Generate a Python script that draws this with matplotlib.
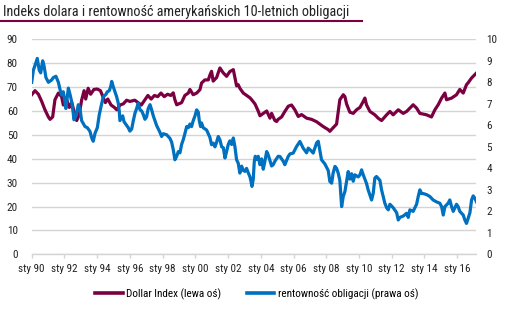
import numpy as np
import matplotlib.pyplot as plt
import matplotlib.font_manager as fm
from matplotlib.lines import Line2D

# wybór wąskiego kroju, jeśli jest zainstalowany
names = {f.name for f in fm.fontManager.ttflist}
narrow = [n for n in ['Roboto Condensed', 'Liberation Sans Narrow', 'DejaVu Sans Condensed',
                      'Open Sans Condensed', 'Noto Sans Condensed'] if n in names]
cond_stretch = [f.name for f in fm.fontManager.ttflist if str(f.stretch) in ('condensed', 'semi-condensed', '75', '87')]
if narrow:
    plt.rcParams['font.family'] = [narrow[0], 'DejaVu Sans']
    fs = 8
elif cond_stretch:
    plt.rcParams['font.family'] = [cond_stretch[0], 'DejaVu Sans']
    plt.rcParams['font.stretch'] = 'condensed'
    fs = 8
else:
    plt.rcParams['font.family'] = ['DejaVu Sans']
    fs = 6.3

# Dollar Index (lewa oś): (rok, wartość)
dxy_t = [1990.00, 1990.20, 1990.41, 1990.61, 1990.81, 1991.02, 1991.12, 1991.28, 1991.42, 1991.63,
         1991.83, 1991.93, 1992.10, 1992.30, 1992.45, 1992.60, 1992.75, 1992.90, 1993.05, 1993.20,
         1993.30, 1993.45, 1993.60, 1993.80, 1994.00, 1994.20, 1994.35, 1994.50, 1994.65, 1994.85,
         1995.05, 1995.20, 1995.40, 1995.60, 1995.80, 1996.00, 1996.30, 1996.50, 1996.70, 1996.90,
         1997.10, 1997.30, 1997.50, 1997.70, 1997.90, 1998.10, 1998.30, 1998.50, 1998.65, 1998.75,
         1998.86, 1999.16, 1999.36, 1999.57, 1999.67, 1999.87, 2000.08, 2000.28, 2000.38, 2000.58,
         2000.79, 2000.89, 2000.99, 2001.09, 2001.30, 2001.40, 2001.50, 2001.70, 2001.91, 2002.11,
         2002.32, 2002.42, 2002.52, 2002.62, 2002.72, 2002.93, 2003.13, 2003.34, 2003.44, 2003.64,
         2003.74, 2003.84, 2003.95, 2004.15, 2004.36, 2004.56, 2004.66, 2004.86, 2004.97, 2005.06,
         2005.27, 2005.47, 2005.68, 2005.88, 2006.08, 2006.29, 2006.49, 2006.80, 2007.10, 2007.41,
         2007.61, 2007.81, 2008.12, 2008.22, 2008.42, 2008.63, 2008.73, 2008.83, 2009.04, 2009.14,
         2009.24, 2009.44, 2009.65, 2009.85, 2010.06, 2010.26, 2010.36, 2010.46, 2010.67, 2010.97,
         2011.17, 2011.38, 2011.69, 2011.89, 2012.09, 2012.40, 2012.70, 2012.91, 2013.31, 2013.52,
         2013.72, 2014.13, 2014.43, 2014.64, 2014.84, 2015.05, 2015.25, 2015.35, 2015.66, 2015.96,
         2016.16, 2016.37, 2016.57, 2016.67, 2016.88, 2017.08, 2017.18]
dxy_v = [66.8, 68.5, 67.0, 64.0, 60.5, 57.5, 56.5, 57.5, 64.7, 67.5,
         66.0, 62.5, 65.5, 61.5, 63.5, 59.5, 56.0, 58.5, 64.5, 68.5,
         65.0, 69.5, 67.0, 69.0, 69.2, 68.5, 66.0, 63.5, 65.0, 62.5,
         61.5, 60.5, 62.5, 63.0, 64.5, 64.0, 64.5, 63.5, 62.5, 64.5,
         66.5, 65.0, 66.5, 66.0, 67.5, 66.0, 67.0, 66.5, 67.6, 64.7,
         62.6, 63.5, 66.5, 67.5, 69.0, 66.8, 67.5, 68.9, 71.7, 73.0,
         73.0, 75.0, 76.6, 72.5, 74.0, 76.0, 78.0, 76.0, 74.5, 76.5,
         77.3, 74.0, 70.5, 71.0, 69.5, 67.5, 66.5, 65.5, 64.7, 63.0,
         61.5, 60.0, 58.0, 59.0, 60.0, 57.0, 59.0, 56.0, 55.6, 56.5,
         57.5, 59.8, 62.0, 62.5, 60.5, 57.7, 58.5, 57.0, 56.5, 55.5,
         54.5, 53.5, 52.2, 51.5, 53.0, 54.5, 59.5, 64.7, 66.8, 66.0,
         63.0, 59.5, 59.0, 60.5, 61.5, 64.0, 65.4, 62.6, 59.8, 58.4,
         57.0, 56.0, 58.4, 59.8, 58.4, 60.5, 59.0, 59.8, 62.6, 61.2,
         59.0, 58.4, 57.5, 60.5, 62.6, 65.4, 67.5, 64.7, 65.4, 66.8,
         69.0, 67.5, 71.0, 71.8, 73.8, 75.2, 75.9]

# rentowność obligacji 10-letnich, % (prawa oś)
ust_t = [1990.00, 1990.10, 1990.20, 1990.34, 1990.46, 1990.55, 1990.67, 1990.75, 1990.87, 1991.02,
         1991.22, 1991.32, 1991.48, 1991.63, 1991.73, 1991.83, 1991.93, 1992.03, 1992.09, 1992.24,
         1992.34, 1992.44, 1992.54, 1992.58, 1992.71, 1992.85, 1992.95, 1993.05, 1993.26, 1993.40,
         1993.56, 1993.67, 1993.76, 1993.87, 1994.01, 1994.13, 1994.28, 1994.37, 1994.54, 1994.62,
         1994.74, 1994.83, 1994.89, 1994.99, 1995.09, 1995.19, 1995.29, 1995.35, 1995.39, 1995.56,
         1995.64, 1995.90, 1996.00, 1996.11, 1996.21, 1996.31, 1996.41, 1996.51, 1996.62, 1996.72,
         1996.82, 1996.92, 1997.02, 1997.12, 1997.23, 1997.33, 1997.43, 1997.53, 1997.63, 1997.74,
         1997.84, 1997.94, 1998.04, 1998.25, 1998.45, 1998.55, 1998.65, 1998.75, 1998.86, 1998.96,
         1999.06, 1999.16, 1999.26, 1999.36, 1999.47, 1999.57, 1999.67, 1999.77, 1999.87, 1999.98,
         2000.08, 2000.18, 2000.24, 2000.32, 2000.38, 2000.48, 2000.69, 2000.79, 2000.89, 2000.99,
         2001.09, 2001.20, 2001.30, 2001.40, 2001.50, 2001.61, 2001.71, 2001.81, 2001.91, 2002.01,
         2002.11, 2002.22, 2002.32, 2002.42, 2002.52, 2002.62, 2002.72, 2002.83, 2002.93, 2003.03,
         2003.13, 2003.23, 2003.34, 2003.40, 2003.46, 2003.54, 2003.60, 2003.66, 2003.74, 2003.84,
         2003.95, 2004.05, 2004.15, 2004.25, 2004.36, 2004.46, 2004.66, 2004.76, 2004.86, 2005.06,
         2005.17, 2005.37, 2005.47, 2005.68, 2005.78, 2005.98, 2006.19, 2006.39, 2006.59, 2006.80,
         2006.90, 2007.10, 2007.20, 2007.41, 2007.51, 2007.71, 2007.92, 2008.12, 2008.22, 2008.33,
         2008.42, 2008.53, 2008.63, 2008.73, 2008.83, 2008.94, 2009.04, 2009.14, 2009.34, 2009.44,
         2009.55, 2009.65, 2009.75, 2009.95, 2010.06, 2010.16, 2010.26, 2010.46, 2010.56, 2010.77,
         2010.87, 2010.97, 2011.07, 2011.28, 2011.38, 2011.58, 2011.69, 2011.79, 2011.89, 2012.09,
         2012.30, 2012.40, 2012.50, 2012.70, 2012.91, 2013.01, 2013.11, 2013.31, 2013.42, 2013.52,
         2013.62, 2013.72, 2013.82, 2013.92, 2014.13, 2014.33, 2014.53, 2014.74, 2014.94, 2015.05,
         2015.15, 2015.25, 2015.45, 2015.55, 2015.66, 2015.76, 2015.96, 2016.06, 2016.16, 2016.37,
         2016.47, 2016.57, 2016.67, 2016.78, 2016.88, 2016.98, 2017.08, 2017.18]
ust_v = [8.00, 8.56, 8.78, 9.11, 8.56, 8.44, 9.00, 8.78, 8.22, 8.00,
         8.11, 8.22, 8.28, 8.00, 7.67, 7.41, 7.56, 7.11, 6.78, 7.73,
         7.44, 7.11, 6.56, 6.26, 6.44, 6.96, 6.78, 6.22, 5.94, 5.89,
         5.72, 5.41, 5.26, 5.63, 5.89, 6.50, 7.03, 7.33, 7.44, 7.56,
         7.61, 7.81, 8.04, 7.78, 7.56, 7.33, 7.03, 6.67, 6.22, 6.44,
         6.17, 5.89, 5.73, 5.83, 6.22, 6.56, 6.78, 7.03, 6.72, 6.67,
         6.50, 6.28, 6.39, 6.78, 6.96, 6.72, 6.44, 6.22, 6.00, 5.83,
         5.67, 5.48, 5.61, 5.56, 5.39, 5.22, 4.87, 4.40, 4.56, 4.78,
         4.72, 5.11, 5.33, 5.61, 5.94, 5.89, 6.06, 5.94, 6.22, 6.44,
         6.72, 6.61, 6.22, 5.94, 6.11, 5.89, 5.78, 5.61, 5.44, 5.10,
         5.17, 5.00, 5.22, 5.48, 5.33, 5.00, 4.96, 4.48, 4.78, 5.11,
         5.28, 5.11, 5.41, 5.00, 4.40, 4.24, 3.78, 4.10, 3.90, 3.86,
         4.00, 3.80, 3.60, 3.40, 3.16, 3.50, 4.30, 4.56, 4.41, 4.56,
         4.17, 4.44, 3.96, 4.33, 4.78, 4.61, 4.11, 4.17, 4.33, 4.56,
         4.55, 4.33, 4.17, 4.56, 4.67, 4.71, 5.02, 5.25, 4.94, 4.72,
         4.94, 4.80, 4.71, 5.18, 5.26, 4.40, 4.20, 3.90, 3.39, 3.31,
         3.78, 4.09, 4.00, 3.78, 3.44, 2.22, 2.70, 2.92, 3.85, 3.50,
         3.75, 3.40, 3.70, 3.60, 3.70, 3.93, 3.70, 3.30, 3.00, 2.53,
         2.84, 3.55, 3.62, 3.44, 3.00, 2.38, 2.17, 2.07, 2.33, 2.17,
         1.94, 1.60, 1.72, 1.78, 1.91, 1.72, 2.07, 2.00, 2.17, 2.33,
         2.69, 3.00, 2.83, 2.83, 2.78, 2.69, 2.53, 2.44, 2.38, 2.22,
         1.83, 2.22, 2.38, 2.53, 2.22, 2.00, 2.33, 2.22, 2.00, 1.83,
         1.60, 1.44, 1.67, 1.94, 2.53, 2.72, 2.61, 2.44]

tick_years = list(range(1990, 2017, 2))
left_ticks = list(range(0, 100, 10))
right_ticks = list(range(0, 11))

maroon = '#7b0041'
blue = '#0070c0'
grid_c = '#d4d4d4'
txt_c = '#222222'

fig = plt.figure(figsize=(5.13, 3.22), dpi=100)
ax = fig.add_axes([0.0618, 0.21, 0.867, 0.668])
ax2 = ax.twinx()

ax.plot(dxy_t, dxy_v, color=maroon, lw=2.3, solid_joinstyle='round')
ax2.plot(ust_t, ust_v, color=blue, lw=2.3, solid_joinstyle='round')

ax.set_xlim(1990.0, 2017.18)
ax.set_ylim(0, 90)
ax2.set_ylim(0, 10)
ax.set_yticks(left_ticks)
ax2.set_yticks(right_ticks)
ax.set_xticks(tick_years)
ax.set_xticklabels([f'sty {y % 100:02d}' for y in tick_years])

for a in (ax, ax2):
    for s in ('top', 'left', 'right'):
        a.spines[s].set_visible(False)
ax2.spines['bottom'].set_visible(False)
ax.spines['bottom'].set_color(grid_c)
ax.spines['bottom'].set_linewidth(1.0)

ax.yaxis.grid(True, color=grid_c, lw=1.0)
ax.set_axisbelow(True)
ax.tick_params(axis='y', length=0, pad=10, labelsize=fs, colors=txt_c)
ax2.tick_params(axis='y', length=0, pad=7, labelsize=fs, colors=txt_c)
ax.tick_params(axis='x', length=3, width=1, color=grid_c, pad=4, labelsize=fs, labelcolor=txt_c)

fig.text(3 / 513, 1 - 16 / 322, 'Indeks dolara i rentowność amerykańskich 10-letnich obligacji',
         fontsize=fs * 1.28, va='baseline', ha='left', color=txt_c)
fig.add_artist(Line2D([0, 362 / 513], [1 - 21 / 322, 1 - 21 / 322], color=maroon, lw=1.5,
                      transform=fig.transFigure))

handles = [Line2D([], [], color=maroon, lw=2.6), Line2D([], [], color=blue, lw=2.6)]
fig.legend(handles, ['Dollar Index (lewa oś)', 'rentowność obligacji (prawa oś)'],
           loc='center', bbox_to_anchor=(0.5, 1 - 294 / 322), ncol=2, frameon=False,
           fontsize=fs, handlelength=2.5, handletextpad=0.3, columnspacing=2.3)

fig.savefig('out.png', dpi=100)
